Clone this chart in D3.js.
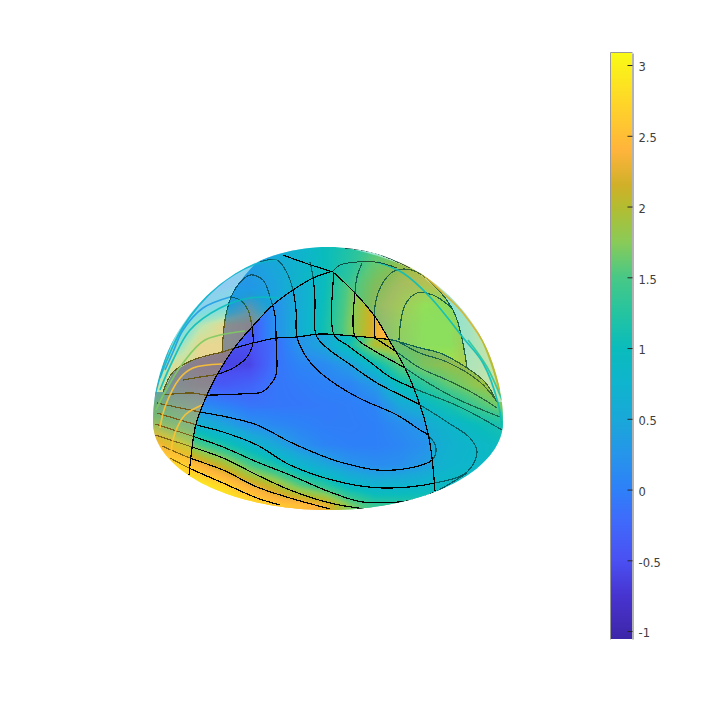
<!DOCTYPE html>
<html><head><meta charset="utf-8">
<script src="https://cdnjs.cloudflare.com/ajax/libs/d3/7.8.5/d3.min.js"></script>
<style>html,body{margin:0;padding:0;background:#fff}svg{display:block}</style>
</head><body><div id="chart"></div>
<script>
// colour bar
const barTicks = [3,2.5,2,1.5,1,0.5,0,-0.5,-1];
const barDomain = [-1.056,3.085];
const mapValues = [-1.056,-0.75,-0.5,-0.2,0,0.25,0.5,0.75,1,1.25,1.5,1.75,2,2.15,2.4,2.7,3.085];
const mapColors = ["#3e26a8","#4734d0","#4a50f2","#3e6cfb","#2e80f8","#2695ea","#19a8d8","#0fb4ce","#0abcbc","#25c4a0","#48c886","#8acb58","#b4bc30","#d0b028","#ffb43c","#ffd22a","#f9fb15"];
// sample positions of the value grids (view-plane units)
const gridU = [-178,-153,-128,-103,-78,-53,-28,-3,22,47,72,97,122,147,172];
const lowerV = [97,77,57,37,17,-3,-23,-43,-63,-83];
const lowerField = [
[0,-.1,-.3,-.4,-.3,-.1,.2,.5,.8,1.7,2,2,2.1,2.2,2.2],
[-.3,-.3,-.45,-.55,-.5,-.2,.25,.5,1.1,2,2.1,2.2,2.3,2.3,2.3],
[-.3,-.45,-.55,-.6,-.6,-.15,.05,.12,.35,.95,1.6,2,2.1,2.2,2.2],
[-.1,-.25,-.35,-.4,-.3,-.1,-.05,.02,.05,.3,1,1.3,1.7,1.9,2.1],
[.6,.3,.12,0,-.12,-.1,-.08,-.05,-.02,.05,.5,.75,1.1,1.5,1.8],
[1.6,1.1,.68,.45,.2,.1,.03,-.03,-.03,0,.15,.3,.65,1,1.25],
[2.5,2,1.5,1.15,.8,.5,.2,.05,0,0,.07,.2,.55,.75,1],
[3,2.8,2.4,2,1.5,1.15,.75,.5,.25,.15,.18,.35,.65,.8,1],
[3.08,3.05,2.95,2.7,2.3,2,1.55,1.25,.85,.68,.72,.8,1,1.2,1.2],
[3.08,3.08,3.08,3.08,2.85,2.6,2.5,2.3,1.7,1.35,1.3,1.3,1.3,1.3,1.3]];
const upperV = [177,157,137,117,97,77,57];
const upperField = [
[.3,.3,.3,.3,.3,.5,.7,1,1.3,1.6,1.9,2,2,2,2],
[.3,.3,.3,.3,.2,.35,.6,1,1.4,1.8,2.1,2.1,2,2,2],
[.3,.3,.3,.3,.05,.3,.6,1,1.6,2.1,2.4,2.5,2.3,2,2],
[.3,.3,.3,0,-.3,.2,.6,1.05,1.65,2.25,2.6,3.08,3,2.3,2],
[.5,.5,.5,-.2,-.45,.2,.62,1.1,1.7,2.25,2.75,3.08,3.08,2.5,2],
[.5,.5,.5,-.2,-.45,.2,.62,1.1,1.7,2.3,2.75,3.08,3.08,2.5,2],
[.5,.5,.5,-.2,-.45,.2,.62,1.1,1.7,2.3,2.75,3.08,3.08,2.5,2]];
const veilV = [177,157,137,117,97,77,57,37,17,-3,-23,-43,-63,-83];
const veilField = [
[.2,.2,.2,.2,.4,.6,.8,1,1.1,1.3,1.5,1.7,1.9,2,2],
[.2,.2,.2,.3,.5,.7,.9,1,1.1,1.4,1.6,1.8,1.9,2,2],
[.2,.2,.25,.3,.5,.6,1,1,1.1,1.4,1.5,1.6,1.8,2,2],
[.3,.3,.4,.8,1.6,.8,1,1,1.1,1.4,1.5,1.3,1.2,1.6,2],
[.4,.5,1.6,2.15,2.1,1.6,1,1,1,1.2,1.3,1.2,1.2,1.6,2],
[.6,1.2,2.15,2.15,2.1,1.6,1,1,1,1.1,1.2,1.2,1.2,1.6,1.9],
[1,2,2.15,2.15,2.1,1.6,1,1,1,1.2,1.3,1.5,1.6,1.6,1.8],
[1.5,2.1,2.15,2.15,2.1,1.5,1,1,1,1,1,1.3,1.5,1.7,1.8],
[2.1,2.25,2.3,2.3,2.2,1.5,1,1,1,1,1,1,1.2,1.4,1.6],
[2.3,2.4,2.4,2.4,2.3,1.5,1,1,1,1,.9,.9,.9,.95,1],
[2.5,2.6,2.6,2.6,2.5,1.5,1,1,1,.9,.85,.85,.85,.9,.9],
[2.7,2.7,2.7,2.7,2.5,1.5,1,1,1,.9,.85,.85,.85,.85,.9],
[2.7,2.7,2.7,2.7,2.5,1.5,1,1,1,.9,.85,.85,.85,.85,.9],
[2.7,2.7,2.7,2.7,2.5,1.5,1,1,1,.9,.85,.85,.85,.85,.9]];
// contours of the main surface (view-plane units)
const baseContours = [
[[-106,69],[-103,102],[-98,122],[-90,137],[-78,147],[-65,142],[-58,125],[-53,107],[-52,84],[-52,47],[-58,37],[-66,30],[-88,28],[-113,27],[-123,27],[-135,29],[-165,27]],
[[-98,125],[-88,122],[-80,112],[-76,95],[-75,79],[-81,65],[-93,55],[-110,48],[-128,45],[-145,42]],
[[-68,160],[-51,162],[-41,149],[-35,132],[-32,112],[-31,85],[-21,64],[-5,47],[29,25],[69,7],[92,-8],[100,-13],[108,-26],[104,-38],[82,-46],[49,-48],[12,-40],[-8,-33],[-38,-20],[-71,-3],[-101,5],[-128,10],[-171,19]],
[[-18,160],[-15,145],[-13,122],[-12,87],[-1,74],[20,59],[49,39],[92,17],[119,0],[142,-16],[149,-30],[139,-50],[107,-61],[55,-66],[12,-60],[-38,-43],[-71,-23],[-105,-10],[-131,-3],[-171,9]],
[[6,149],[6,87],[19,77],[42,60],[62,45],[85,34],[132,15],[174,-8]],
[[-173,-2],[-133,-15],[-105,-25],[-71,-40],[-38,-53],[2,-70],[35,-80],[85,-78],[107,-70],[139,-51]],
[[34,159],[29,145],[27,129],[27,86],[45,72],[77,54],[92,44],[125,25],[172,5]],
[[-173,-13],[-136,-25],[-105,-36],[-71,-53],[-38,-68],[2,-81],[37,-87]],
[[47,84],[48,122],[59,145],[69,152],[89,150],[125,112],[139,54]],
[[47,84],[70,69],[92,54],[119,42],[145,29],[169,14]],
[[71,80],[92,69],[119,60],[152,40],[170,19]],
[[-166,-24],[-138,-36],[-105,-48],[-71,-65],[-38,-76],[2,-87]],
[[71,82],[72,95],[77,117],[89,129],[105,127],[124,114]],
[[-158,-36],[-139,-46],[-105,-61],[-71,-76],[-48,-83]]];
const seam = [[-165,30],[-155,50],[-135,62],[-106,70],[-93,74],[-75,79],[-51,84],[-31,85],[-8,88],[25,86],[47,84],[64,82],[92,74],[112,69],[139,54],[157,40],[169,20]];
const edgeA = [[-139,-53],[-136,-26],[-133,-6],[-128,10],[-121,27],[-111,47],[-93,75],[-76,95],[-55,117],[-35,132],[-15,144],[5,151]];
const edgeR = [[5,150],[27,129],[48,104],[64,77],[77,54],[92,17],[100,-11],[104,-36],[107,-69]];
const upperOutline = [[-106,69],[-103,102],[-98,122],[-90,137],[-70,160],[-43,172],[17,174],[82,154],[89,150],[125,112],[139,54]];
const extraArcs = [
[[5,151],[12,157],[47,160],[69,154]],
[[-45,167],[-23,159],[5,150]],
[[17,174],[47,169],[82,154]]];
// contours of the veil, with their level
const veilLevels = [2.55,2.55,1.7,1,0.35,0.8,0.6,1,2.2,2,1.3];
const veilContours = [
[[-157,-30],[-153,-11],[-143,7],[-126,17]],
[[-168,-6],[-163,15],[-148,44],[-135,54],[-106,58]],
[[-172,12],[-163,30],[-145,59],[-123,82],[-83,91]],
[[-168,32],[-155,62],[-138,92],[-108,114],[-78,124],[-48,124]],
[[-163,52],[-155,70],[-145,92],[-125,114],[-98,125]],
[[-168,44],[-145,95],[-111,135],[-75,157],[-51,162]],
[[-173,27],[-153,87],[-123,127],[-88,154],[-63,168]],
[[49,160],[75,149],[102,125],[137,82],[155,59],[170,19],[174,-6]],
[[92,150],[115,129],[135,109],[159,72],[172,27]],
[[72,160],[112,137],[147,97],[172,32]],
[[140,82],[159,55],[174,22]]];

const W=720,H=718;
const x=d3.scaleLinear().domain([-328,392]).range([0,W]);
const y=d3.scaleLinear().domain([422,-296]).range([0,H]);
const R=175, minor=88;
const color=d3.scaleLinear().domain(mapValues).range(mapColors).interpolate(d3.interpolateRgb).clamp(true);
const barY=d3.scaleLinear().domain(barDomain).range([639,53]);
const line=d3.line().x(d=>x(d[0])).y(d=>y(d[1])).curve(d3.curveCatmullRom.alpha(0.5));
const poly=d3.line().x(d=>x(d[0])).y(d=>y(d[1]));

const svg=d3.select("#chart").append("svg").attr("width",W).attr("height",H);
const defs=svg.append("defs");

function sampler(vs,field){
  const iu=d3.scaleLinear().domain(gridU).range(gridU.map((d,i)=>i)).clamp(true);
  const iv=d3.scaleLinear().domain(vs).range(vs.map((d,i)=>i)).clamp(true);
  return (u,v)=>{
    const a=iu(u),b=iv(v),a0=Math.min(Math.floor(a),gridU.length-2),b0=Math.min(Math.floor(b),vs.length-2);
    const s=a-a0,t=b-b0;
    return (field[b0][a0]*(1-s)+field[b0][a0+1]*s)*(1-t)+(field[b0+1][a0]*(1-s)+field[b0+1][a0+1]*s)*t;
  };
}
const X0=140,Y0=240,CW=380,CH=280;
function paint(vs,field){
  const f=sampler(vs,field);
  const c=document.createElement("canvas");c.width=CW;c.height=CH;
  const ctx=c.getContext("2d"),img=ctx.createImageData(CW,CH);
  for(let j=0;j<CH;j++)for(let i=0;i<CW;i++){
    const col=d3.rgb(color(f(x.invert(X0+i+.5),y.invert(Y0+j+.5))));
    const k=(j*CW+i)*4;img.data[k]=col.r;img.data[k+1]=col.g;img.data[k+2]=col.b;img.data[k+3]=255;
  }
  ctx.putImageData(img,0,0);return c.toDataURL();
}
const lowerImg=paint(lowerV,lowerField),upperImg=paint(upperV,upperField),veilImg=paint(veilV,veilField);

// clip shapes
const rimTop=d3.range(0,181,2).map(a=>[R*Math.cos(a*Math.PI/180),R*Math.sin(a*Math.PI/180)]);
const rimBottom=d3.range(180,361,2).map(a=>[R*Math.cos(a*Math.PI/180),minor*Math.sin(a*Math.PI/180)]);
const domeD=poly(rimTop.concat(rimBottom))+"Z";
defs.append("clipPath").attr("id","dome").append("path").attr("d",domeD);
const patchPts=edgeA.concat(edgeR.slice(1));
const patchD=line(patchPts)+"L"+x(107)+","+y(-100)+"L"+x(-139)+","+y(-100)+"Z";
defs.append("clipPath").attr("id","patch").append("path").attr("d",patchD);
defs.append("clipPath").attr("id","outside").append("path").attr("clip-rule","evenodd")
  .attr("d","M0,0H"+W+"V"+H+"H0Z"+patchD);
const lowerD=poly(seam.concat([[200,20],[200,-120],[-200,-120],[-200,30]]))+"Z";
defs.append("clipPath").attr("id","lower").append("path").attr("d",lowerD);
const upperD=line(upperOutline)+"L"+seam.slice(3,14).reverse().map(d=>x(d[0])+","+y(d[1])).join("L")+"Z";
defs.append("clipPath").attr("id","upper").append("path").attr("d",upperD);

function image(g,href,clip){
  const n=g.append("image").attr("href",href).attr("x",X0).attr("y",Y0).attr("width",CW).attr("height",CH);
  if(clip)n.attr("clip-path","url(#"+clip+")");
  return n;
}
function lines(g,data,w,col){
  return g.selectAll(null).data(data).join("path").attr("d",line).attr("fill","none")
    .attr("stroke",col).attr("stroke-width",w).attr("stroke-linejoin","round").attr("shape-rendering","crispEdges");
}
function baseLayer(g){
  image(g,upperImg,"upper");
  image(g,lowerImg,"lower");
  lines(g,baseContours,1.2,"#000");
  lines(g,[seam],1.2,"#000");
}
const dome=svg.append("g").attr("clip-path","url(#dome)");
baseLayer(dome.append("g"));
const veil=dome.append("g").attr("clip-path","url(#outside)");
image(veil,veilImg).attr("opacity",0.5);
lines(veil,veilContours,1.7,(d,i)=>color(veilLevels[i])).attr("stroke-opacity",.9).attr("shape-rendering","auto");
lines(veil,extraArcs,1,"#000").attr("stroke-opacity",.6);
const front=dome.append("g").attr("clip-path","url(#patch)");
baseLayer(front);
lines(dome,[edgeA,edgeR],1.2,"#000");
lines(dome,[extraArcs[1]],1.2,"#000");

// colour bar
const c=document.createElement("canvas");c.width=1;c.height=586;
const cc=c.getContext("2d");
d3.range(586).forEach(j=>{cc.fillStyle=color(barY.invert(53+j+.5));cc.fillRect(0,j,1,1);});
const bar=svg.append("g");
bar.append("image").attr("href",c.toDataURL()).attr("x",611).attr("y",53).attr("width",21).attr("height",586).attr("preserveAspectRatio","none");
bar.append("path").attr("d","M610.5,639.5V52.5H632.5").attr("fill","none").attr("stroke","#999");
const axis=d3.axisRight(barY).tickValues(barTicks).tickFormat(String).tickSizeInner(-5).tickSizeOuter(0).tickPadding(6);
const ag=bar.append("g").attr("transform","translate(632.5,0)").call(axis);
ag.select(".domain").attr("stroke","#262626").attr("stroke-opacity",.7);
ag.selectAll(".tick line").attr("stroke","#262626");
ag.selectAll(".tick text").attr("fill","#404040").attr("font-family","'DejaVu Sans'").attr("font-size",11.5).attr("dy","0.5em");
</script></body></html>
